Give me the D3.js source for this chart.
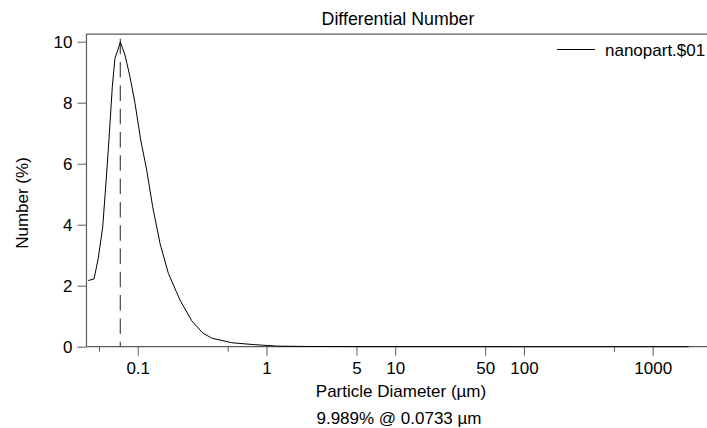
<!DOCTYPE html>
<html>
<head>
<meta charset="utf-8">
<script src="https://cdn.jsdelivr.net/npm/d3@7"></script>
<style>
  html, body { margin: 0; padding: 0; background: #fff; }
  svg { display: block; font-family: "Liberation Sans", Arial, sans-serif; }
</style>
</head>
<body>
<svg id="chart" width="707" height="428"></svg>
<script>
// ---- data ----
const sizes = [0.0413, 0.0458, 0.0494, 0.0535, 0.0574, 0.0598, 0.0635, 0.0666, 0.0694, 0.0733,
               0.0797, 0.0871, 0.0953, 0.1055, 0.1175, 0.1307, 0.149, 0.1729, 0.213, 0.2627,
               0.32, 0.376, 0.537, 0.79, 1.2, 2, 5, 20, 100, 500, 1900];
const numberPct = [2.17, 2.22, 2.9, 3.93, 5.69, 6.78, 8.52, 9.46, 9.67, 9.989,
                   9.56, 8.85, 7.98, 6.78, 5.79, 4.59, 3.39, 2.41, 1.53, 0.85,
                   0.45, 0.28, 0.13, 0.07, 0.02, 0.008, 0.003, 0.001, 0, 0, 0];
const xMajorTicks = [0.1, 1, 5, 10, 50, 100, 1000];
const xMinorTicks = [0.05, 0.5, 500];
const yTicks = [0, 2, 4, 6, 8, 10];
const peakSize = 0.0733;
const peakValue = 9.989;
const seriesName = "nanopart.$01";
const title = "Differential Number";
const xTitle = "Particle Diameter (µm)";
const yTitle = "Number (%)";
const summary = "9.989% @ 0.0733 µm";

// ---- layout ----
const svg = d3.select("#chart");
const axisColor = "#5a5a5a";
const fontSize = 17;
const ff = "Liberation Sans, Arial, sans-serif";

const x = d3.scaleLog().domain([0.1, 1000]).range([137.7, 652.7]);
const y = d3.scaleLinear().domain([0, 10]).range([346.7, 41.7]);

const xMin = 0.04, xMax = 3000, yMax = 10.25;
const pLeft = x(xMin), pRight = x(xMax), pTop = y(yMax), pBottom = y(0);

// frame (left + top; right side falls outside the window)
svg.append("line").attr("x1", pLeft).attr("x2", pLeft).attr("y1", pTop).attr("y2", pBottom)
  .attr("stroke", axisColor).attr("stroke-width", 1.2);
svg.append("line").attr("x1", pLeft).attr("x2", pRight).attr("y1", pTop).attr("y2", pTop)
  .attr("stroke", axisColor).attr("stroke-width", 1.2);

// y axis
const yAxis = svg.append("g").attr("transform", `translate(${pLeft},0)`)
  .call(d3.axisLeft(y).tickValues(yTicks).tickSize(9).tickPadding(5).tickFormat(d3.format("d")));
yAxis.select(".domain").remove();
yAxis.selectAll("line").attr("stroke", axisColor);
yAxis.selectAll("text").attr("font-size", fontSize).attr("font-family", ff).attr("fill", "#000");

// x axis
const xAxis = svg.append("g").attr("transform", `translate(0,${pBottom})`)
  .call(d3.axisBottom(x).tickValues(xMajorTicks).tickSize(9).tickPadding(6).tickFormat(d => String(d)));
xAxis.select(".domain").attr("d", `M${pLeft},0H${pRight}`).attr("stroke", axisColor).attr("stroke-width", 1.2);
xAxis.selectAll("line").attr("stroke", axisColor);
xAxis.selectAll("text").attr("font-size", fontSize).attr("font-family", ff).attr("fill", "#000");

const xMinor = svg.append("g").attr("transform", `translate(0,${pBottom})`)
  .call(d3.axisBottom(x).tickValues(xMinorTicks).tickSize(5).tickFormat(""));
xMinor.select(".domain").remove();
xMinor.selectAll("line").attr("stroke", axisColor);

// dashed peak marker
svg.append("line")
  .attr("x1", x(peakSize)).attr("x2", x(peakSize))
  .attr("y1", pBottom).attr("y2", pTop + 3)
  .attr("stroke", "#555").attr("stroke-width", 1.3)
  .attr("stroke-dasharray", "5 7.8 15.5 7.8 15.5 7.8 15.5 7.8 15.5 7.8 15.5 7.8 15.5 7.8 15.5 7.8 15.5 7.8 15.5 7.8 15.5 7.8 15.5 7.8 15.5 7.8 15.5 7.8 15.5 7.8");

// curve
const line = d3.line().x((d, i) => x(sizes[i])).y(d => y(d));
svg.append("path").datum(numberPct)
  .attr("d", line)
  .attr("fill", "none").attr("stroke", "#000").attr("stroke-width", 1);

// title
svg.append("text").attr("x", 398).attr("y", 25).attr("text-anchor", "middle")
  .attr("font-size", 17.8).text(title);

// legend
svg.append("line").attr("x1", 557).attr("x2", 595).attr("y1", 49.5).attr("y2", 49.5)
  .attr("stroke", "#000").attr("stroke-width", 1);
svg.append("text").attr("x", 605).attr("y", 55.5).attr("font-size", fontSize).text(seriesName);

// axis titles
svg.append("text").attr("x", 401).attr("y", 396.5).attr("text-anchor", "middle")
  .attr("font-size", fontSize).text(xTitle);
svg.append("text").attr("x", 399).attr("y", 424).attr("text-anchor", "middle")
  .attr("font-size", fontSize).text(summary);
svg.append("text").attr("transform", "translate(28,203) rotate(-90)").attr("text-anchor", "middle")
  .attr("font-size", fontSize).text(yTitle);
</script>
</body>
</html>
